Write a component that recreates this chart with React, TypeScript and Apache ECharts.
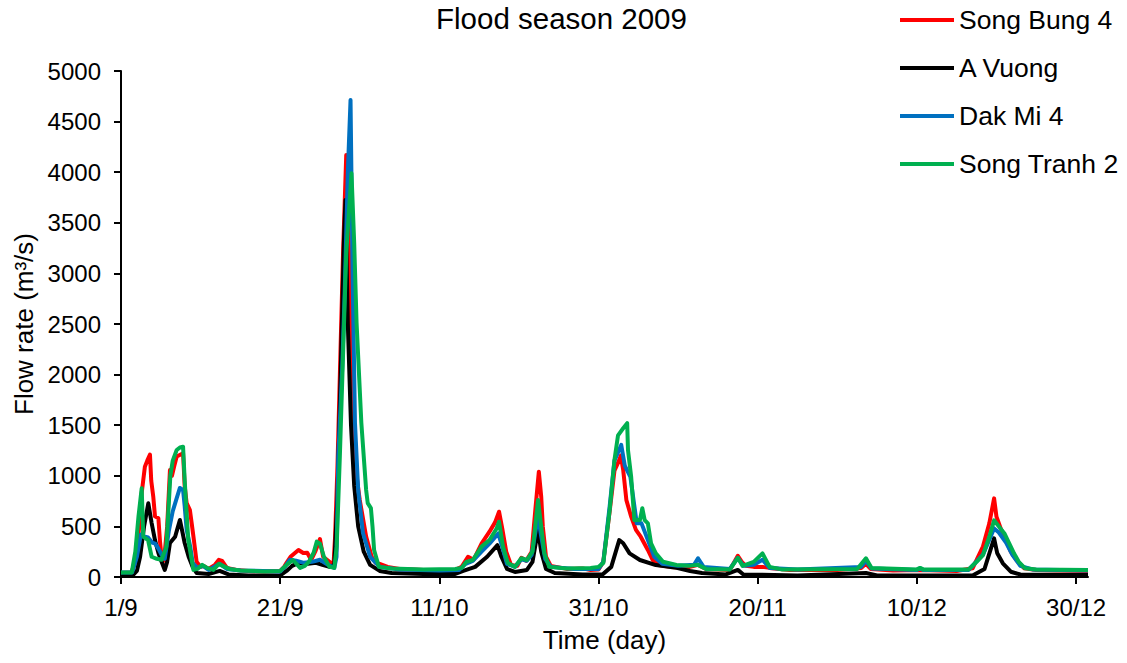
import React, { useEffect, useRef } from "react";
import * as echarts from "echarts";

// x = days since 1 September 2009
const tickDays = [0, 20, 40, 60, 80, 100, 120];
const tickLabels = ["1/9", "21/9", "11/10", "31/10", "20/11", "10/12", "30/12"];
const yTicks = [0, 500, 1000, 1500, 2000, 2500, 3000, 3500, 4000, 4500, 5000];

const seriesNames = ["Song Bung 4", "A Vuong", "Dak Mi 4", "Song Tranh 2"];
const seriesColors = ["#FF0000", "#000000", "#0070C0", "#00B050"];

const songBungDays = [0, 1.3, 1.8, 2.3, 2.6, 3.0, 3.3, 3.64, 3.8, 4.06, 4.27, 4.7, 4.9, 5.1, 5.4, 5.8, 6.15, 6.4, 6.7, 7.0, 7.5, 7.8, 8.0, 8.25, 8.66, 8.9, 9.1, 9.5, 10.0, 10.4, 11.0, 11.8, 12.3, 12.7, 13.3, 14.5, 16, 18, 20.0, 20.5, 20.8, 21.3, 22.3, 22.9, 23.4, 23.9, 24.4, 25.0, 25.4, 26.2, 26.7, 26.9, 27.2, 27.5, 27.9, 28.3, 28.6, 28.9, 29.2, 29.6, 30.0, 30.8, 31.5, 32.0, 32.5, 33.5, 35, 38, 40, 42, 42.8, 43.6, 44.3, 45.3, 46.3, 47.0, 47.5, 47.9, 48.4, 49.0, 49.8, 50.3, 50.9, 51.6, 52.1, 52.5, 52.8, 53.0, 53.4, 54.0, 56, 58, 59, 60, 60.6, 61.4, 62.0, 62.6, 62.8, 63.1, 63.5, 64.1, 64.7, 65.3, 66.2, 66.8, 67.5, 69, 71, 72.5, 73.5, 76.5, 77.5, 78.0, 78.5, 79.5, 80.6, 81.5, 84, 90, 93.0, 93.6, 94.2, 97, 100.4, 105, 107.0, 108.3, 109.1, 109.7, 110.0, 110.6, 111.2, 111.8, 112.5, 113.5, 115, 121.5];
const songBungFlow = [40, 45, 150, 500, 830, 1090, 1150, 1210, 950, 790, 600, 580, 350, 200, 160, 500, 1057, 1000, 1100, 1190, 1210, 1222, 900, 730, 660, 520, 400, 150, 100, 110, 80, 120, 170, 160, 90, 70, 60, 55, 60, 100, 140, 200, 267, 237, 240, 168, 250, 375, 200, 150, 120, 400, 1100, 2000, 3200, 4170, 3400, 2200, 1500, 1000, 760, 400, 200, 140, 130, 100, 80, 70, 65, 70, 100, 200, 170, 330, 448, 540, 645, 480, 250, 120, 110, 190, 160, 250, 700, 1040, 793, 497, 200, 110, 80, 85, 70, 75, 150, 650, 1050, 1155, 1200, 1057, 760, 596, 465, 398, 267, 168, 118, 100, 90, 120, 80, 70, 210, 150, 110, 100, 100, 90, 70, 70, 90, 130, 80, 65, 70, 60, 86, 300, 530, 777, 596, 465, 365, 250, 168, 86, 70, 60];

const aVuongDays = [0, 1.5, 2.0, 2.4, 2.9, 3.43, 3.85, 4.27, 4.7, 5.1, 5.5, 5.8, 6.15, 6.8, 7.1, 7.4, 7.7, 8.0, 8.5, 9.0, 9.5, 11, 12.4, 13.5, 16, 20, 20.8, 21.5, 22.3, 23.5, 24.5, 25.3, 26.2, 26.8, 27.2, 27.6, 28.0, 28.2, 28.5, 28.9, 29.3, 29.8, 30.5, 31.3, 32.5, 34, 38, 42, 43.0, 44.5, 46.0, 47.3, 47.8, 48.5, 49.5, 51.0, 51.7, 52.4, 52.8, 53.4, 54.5, 58, 60.5, 61.6, 62.6, 63.1, 63.9, 65.2, 67.2, 69.8, 71.5, 73, 76, 77.5, 78.2, 85, 93.6, 95, 107, 108.5, 109.7, 110.1, 110.8, 111.8, 113, 121.5];
const aVuongFlow = [20, 20, 60, 200, 500, 728, 533, 365, 237, 150, 70, 150, 336, 398, 480, 563, 450, 336, 200, 100, 40, 30, 60, 25, 15, 15, 60, 110, 140, 130, 140, 120, 100, 120, 800, 2000, 3300, 3725, 2500, 1500, 900, 500, 250, 120, 60, 40, 30, 30, 60, 100, 200, 315, 200, 80, 50, 70, 150, 465, 250, 80, 40, 25, 25, 100, 365, 333, 234, 168, 118, 90, 60, 40, 25, 70, 25, 15, 40, 15, 15, 80, 382, 234, 135, 52, 25, 20];

const dakMiDays = [0, 1.4, 2.0, 2.5, 2.9, 3.4, 3.9, 4.3, 4.7, 5.1, 5.5, 6.0, 6.5, 7.0, 7.4, 7.8, 8.0, 8.25, 8.7, 9.0, 9.6, 10.3, 11, 12.4, 13.3, 15, 20, 20.6, 21.2, 22, 23, 24, 25, 26, 26.8, 27.08, 27.3, 27.8, 28.1, 28.5, 28.84, 29.1, 29.4, 29.8, 30.4, 31.3, 32.5, 35, 40, 42.5, 43.3, 44.2, 45.3, 46.3, 47.4, 47.9, 48.5, 49.5, 50.3, 51.0, 51.6, 52.4, 52.8, 53.3, 54.0, 57, 60, 60.6, 61.4, 62.0, 62.85, 63.3, 64.0, 64.8, 65.4, 66.2, 67.0, 68.0, 70, 72.0, 72.5, 73.2, 76.5, 77.5, 78.2, 79.5, 80.6, 81.5, 85, 93.0, 93.6, 94.3, 100, 100.4, 100.8, 106.5, 108.3, 109.7, 110.3, 111.2, 112.0, 113.0, 114.5, 121.5];
const dakMiFlow = [45, 45, 200, 420, 400, 390, 340, 330, 280, 220, 180, 450, 650, 780, 880, 860, 700, 465, 300, 140, 90, 110, 70, 130, 80, 65, 55, 100, 170, 160, 140, 150, 170, 120, 90, 200, 1190, 2078, 2800, 4000, 4713, 3000, 1520, 860, 435, 200, 100, 75, 65, 70, 130, 160, 250, 330, 430, 300, 130, 100, 175, 160, 220, 600, 400, 180, 100, 80, 80, 150, 700, 1150, 1305, 1100, 990, 530, 530, 365, 200, 130, 110, 120, 185, 100, 80, 190, 110, 120, 170, 90, 75, 100, 160, 85, 70, 85, 70, 70, 220, 480, 440, 340, 220, 110, 75, 65];

const songTranhDays = [0, 1.35, 1.8, 2.2, 2.6, 2.8, 3.4, 3.85, 4.5, 5.1, 5.7, 6.2, 6.5, 7.0, 7.4, 7.8, 8.0, 8.45, 9.1, 9.6, 10.2, 10.8, 11.6, 12.3, 12.8, 13.6, 15, 18, 20.0, 20.8, 21.6, 22.5, 23.1, 23.6, 24.2, 24.6, 25.0, 25.5, 26.2, 26.8, 27.1, 27.5, 27.9, 28.3, 28.96, 29.3, 29.6, 30.2, 30.8, 31.0, 31.4, 31.6, 31.8, 32.4, 34, 38, 42, 42.8, 43.4, 44.2, 45.3, 46.3, 47.2, 47.5, 48.0, 48.6, 49.5, 50.3, 51.0, 51.7, 52.4, 52.8, 53.2, 53.8, 56, 59, 60.0, 60.6, 61.4, 62.0, 62.45, 63.1, 63.6, 63.7, 64.1, 64.5, 65.2, 65.5, 65.8, 66.2, 66.6, 67.2, 68.1, 69.8, 71.4, 72.5, 73.5, 76.5, 77.5, 78.1, 79.5, 80.6, 81.5, 83, 92.5, 93.6, 94.3, 100, 100.4, 100.8, 106.5, 107.5, 108.3, 109.1, 109.7, 110.5, 111.0, 111.6, 112.2, 112.8, 113.6, 115, 121.5];
const songTranhFlow = [45, 45, 250, 600, 876, 400, 365, 200, 180, 170, 300, 1000, 1150, 1255, 1280, 1287, 958, 365, 70, 80, 120, 90, 70, 130, 110, 80, 65, 55, 60, 120, 168, 90, 110, 150, 240, 350, 330, 200, 100, 90, 300, 1200, 2200, 3200, 3990, 3300, 2510, 1520, 860, 730, 680, 500, 267, 100, 85, 75, 80, 90, 150, 168, 300, 365, 480, 546, 300, 138, 100, 185, 168, 250, 760, 497, 234, 100, 85, 90, 100, 138, 660, 1156, 1400, 1470, 1520, 1255, 990, 563, 563, 680, 563, 530, 333, 234, 150, 118, 110, 120, 80, 75, 190, 110, 150, 234, 100, 75, 80, 185, 90, 75, 90, 75, 75, 150, 217, 398, 560, 480, 430, 333, 234, 150, 86, 75, 70];

const allDays = [songBungDays, aVuongDays, dakMiDays, songTranhDays];
const allFlows = [songBungFlow, aVuongFlow, dakMiFlow, songTranhFlow];

const FONT = "'Liberation Sans', Arial, sans-serif";

export default function App() {
  const ref = useRef<HTMLDivElement>(null);
  useEffect(() => {
    if (!ref.current) return;
    const chart = echarts.init(ref.current, undefined, { renderer: "svg" });
    const series = seriesNames.map((name, i) => ({
      name,
      type: "line",
      data: allDays[i].map((d, k) => [d, allFlows[i][k]]),
      showSymbol: false,
      symbol: "none",
      lineStyle: { width: 4, color: seriesColors[i], join: "round" },
      itemStyle: { color: seriesColors[i] },
      z: 2 + i,
    }));
    chart.setOption({
      animation: false,
      backgroundColor: "#ffffff",
      textStyle: { fontFamily: FONT },
      title: {
        text: "Flood season 2009",
        left: 436,
        top: 3,
        padding: 0,
        textStyle: { fontFamily: FONT, fontSize: 29.5, fontWeight: "normal", color: "#000" },
      },
      legend: {
        orient: "vertical",
        left: 900,
        top: 6,
        padding: 0,
        itemWidth: 54,
        itemHeight: 4,
        itemGap: 20,
        icon: "rect",
        data: seriesNames,
        textStyle: { fontFamily: FONT, fontSize: 26.5, color: "#000", lineHeight: 28 },
      },
      grid: { left: 121, right: 39, top: 71, bottom: 86, containLabel: false },
      xAxis: {
        type: "value",
        min: 0,
        max: 121.5,
        interval: 20,
        name: "Time (day)",
        nameLocation: "middle",
        nameGap: 50,
        nameTextStyle: { fontFamily: FONT, fontSize: 26, color: "#000" },
        axisLine: { show: true, onZero: false, lineStyle: { color: "#000", width: 2 } },
        axisTick: { show: true, length: 7, lineStyle: { color: "#000", width: 2 }, customValues: tickDays },
        axisLabel: {
          customValues: tickDays,
          fontFamily: FONT,
          fontSize: 24,
          color: "#000",
          margin: 18,
          formatter: (v: number) => {
            const idx = tickDays.indexOf(Math.round(v));
            return idx >= 0 ? tickLabels[idx] : "";
          },
        },
        splitLine: { show: false },
      },
      yAxis: {
        type: "value",
        min: 0,
        max: 5000,
        interval: 500,
        name: "Flow rate (m³/s)",
        nameLocation: "middle",
        nameGap: 84,
        nameTextStyle: { fontFamily: FONT, fontSize: 26, color: "#000" },
        axisLine: { show: true, lineStyle: { color: "#000", width: 2 } },
        axisTick: { show: true, length: 7, lineStyle: { color: "#000", width: 2 } },
        axisLabel: {
          fontFamily: FONT,
          fontSize: 24,
          color: "#000",
          margin: 20,
          formatter: (v: number) => (yTicks.indexOf(v) >= 0 ? String(v) : ""),
        },
        splitLine: { show: false },
      },
      series,
    });
    return () => chart.dispose();
  }, []);
  return (
    <div
      ref={ref}
      style={{ position: "fixed", left: 0, top: 0, width: 1127, height: 663, background: "#fff" }}
    />
  );
}
